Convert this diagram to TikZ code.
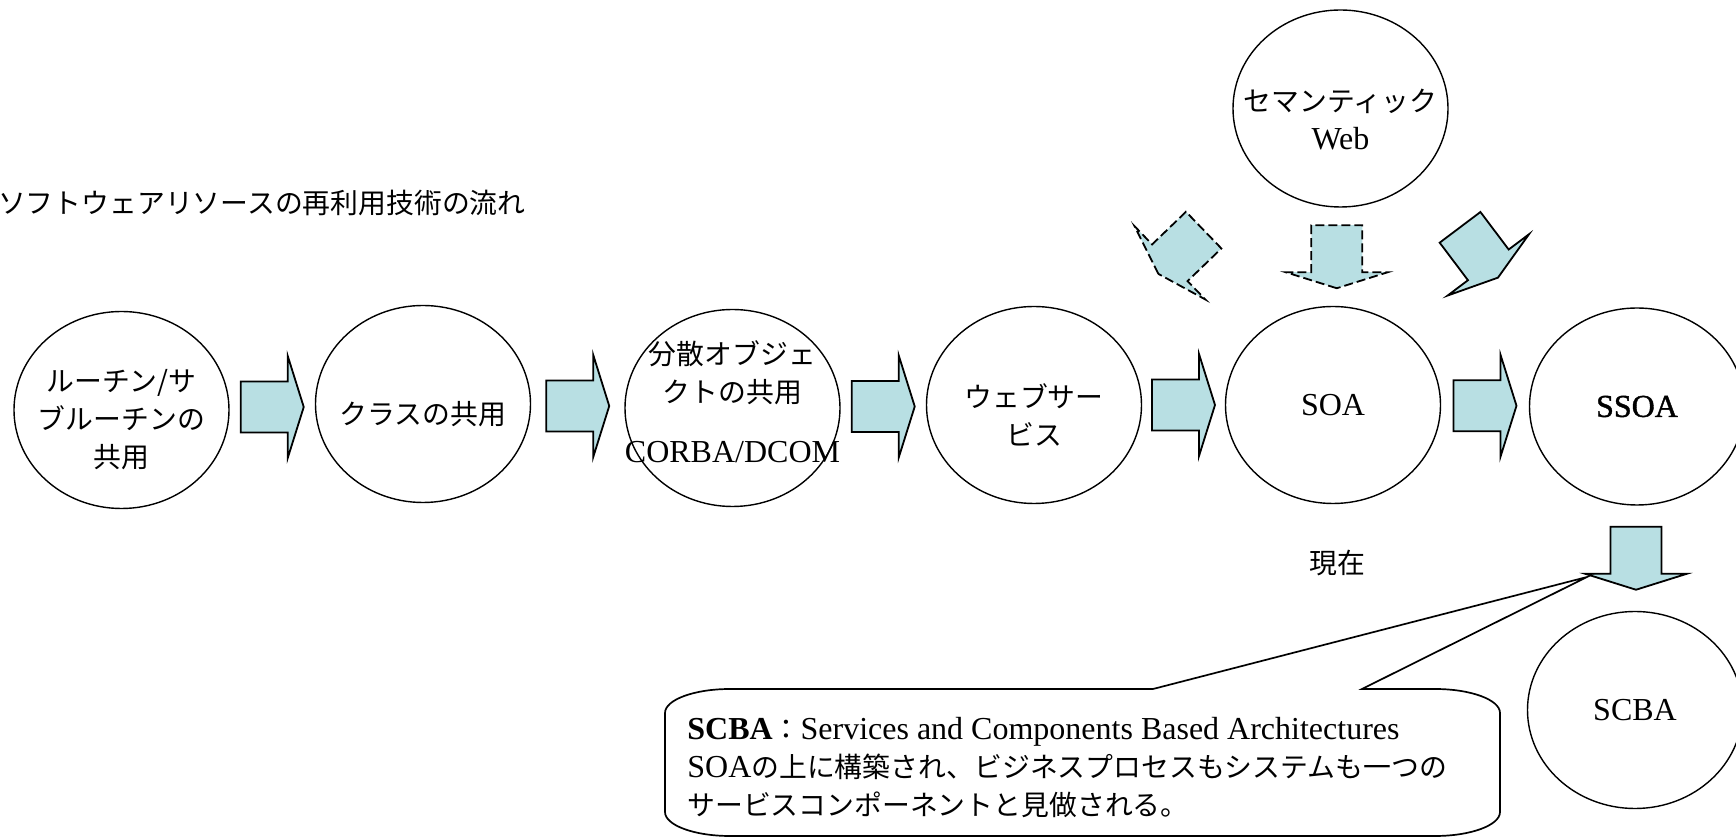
\documentclass[tikz,border=0pt]{standalone}
\usepackage{fontspec}
\setmainfont{Liberation Serif}
\newfontfamily\jp[Scale=0.87]{Noto Sans CJK JP}
\newfontfamily\semib[FakeBold=1.2]{Liberation Serif}
\usetikzlibrary{shapes.geometric,calc}
\definecolor{ArrowTeal}{RGB}{184, 223, 227}
\tikzset{blockarrow/.pic={
	\path[pic actions] (31.5, 0) -- (15.5, 51) -- (15.5, 25.5) -- (-31.5, 25.5) -- (-31.5, -25.5) -- (15.5, -25.5) -- (15.5, -51) -- cycle;
}}

\begin{document}
\begin{tikzpicture}[x=0.5pt, y=-0.5pt,
		blob/.style={ellipse, draw, line width=0.7pt, inner sep=0pt, minimum width=107.5pt, minimum height=98.5pt, font=\fontsize{16}{19}\selectfont},
		txt/.style={inner sep=0pt, align=center, font=\fontsize{16}{19}\selectfont},
		jptxt/.style={txt, font=\fontsize{16}{19}\selectfont\jp},
		flow/.style={draw, line width=0.9pt, fill=ArrowTeal, line join=miter},
		hint/.style={flow, dash pattern=on 4.5pt off 2pt}]
	\useasboundingbox (0, 0) rectangle (1736, 838);
	\node[txt, anchor=east] (title) at (526, 203) {\jp ソフトウェアリソースの再利用技術の流れ};
	% the chain of circles
	\node[blob] (rout) at (121.5, 410) {};
	\node[jptxt, yshift=-5pt] (routtext) at (rout) {ルーチン/サ\\ブルーチンの\\共用};
	\node[blob] (cls) at (423, 404) {};
	\node[jptxt, yshift=-5pt] (clstext) at (cls) {クラスの共用};
	\node[blob] (dist) at (732.5, 408) {};
	\node[jptxt, yshift=3pt] (disttext) at (dist) {分散オブジェ\\クトの共用\\[11pt]\rmfamily CORBA/DCOM};
	\node[blob] (web) at (1034, 405) {};
	\node[jptxt, yshift=-5pt] (webtext) at (web) {ウェブサー\\ビス};
	\node[blob] (soa) at (1333, 405) {SOA};
	\node[blob] (ssoa) at (1637, 406.5) {\semib SSOA};
	\node[blob] (semweb) at (1340.5, 108.5) {};
	\node[jptxt, yshift=-5.5pt] (semwebtext) at (semweb) {セマンティック\\\rmfamily Web};
	\node[blob] (scba) at (1635, 710) {SCBA};
	\node[txt] (now) at (1337, 563) {\jp 現在};
	\foreach \a/\b in {rout/cls, cls/dist, dist/web, web/soa, soa/ssoa}
		\pic[flow] at ($(\a.east)!0.5!(\b.west)$) {blockarrow};
	\pic[hint, rotate=-90] at ($(semweb.south)!0.5!(soa.north)$) {blockarrow};
	\pic[hint, rotate=224] at (1181, 252) {blockarrow};
	\pic[flow, rotate=-53] at (1479, 252.5) {blockarrow};
	\pic[flow, rotate=-90] at ($(ssoa.south)!0.5!(scba.north)$) {blockarrow};
	% callout
	\coordinate (tip) at (1587, 577);
	\draw[line width=0.85pt, fill=white] (730, 689) -- (1153, 689) -- (tip) -- (1362, 689) -- (1435, 689)
		.. controls +(35.9, 0) and +(0, -13.2) .. (1500, 713) -- (1500, 812)
		.. controls +(0, 13.2) and +(35.9, 0) .. (1435, 836) -- (730, 836)
		.. controls +(-35.9, 0) and +(0, 13.2) .. (665, 812) -- (665, 713)
		.. controls +(0, -13.2) and +(-35.9, 0) .. (730, 689) -- cycle;
	\node[txt, anchor=north west, align=left] (note) at (687, 717) {\textbf{SCBA}{\jp ：}Services and Components Based Architectures\\SOA{\jp の上に構築され、ビジネスプロセスもシステムも一つの}\\{\jp サービスコンポーネントと見做される。}};
\end{tikzpicture}
\end{document}
